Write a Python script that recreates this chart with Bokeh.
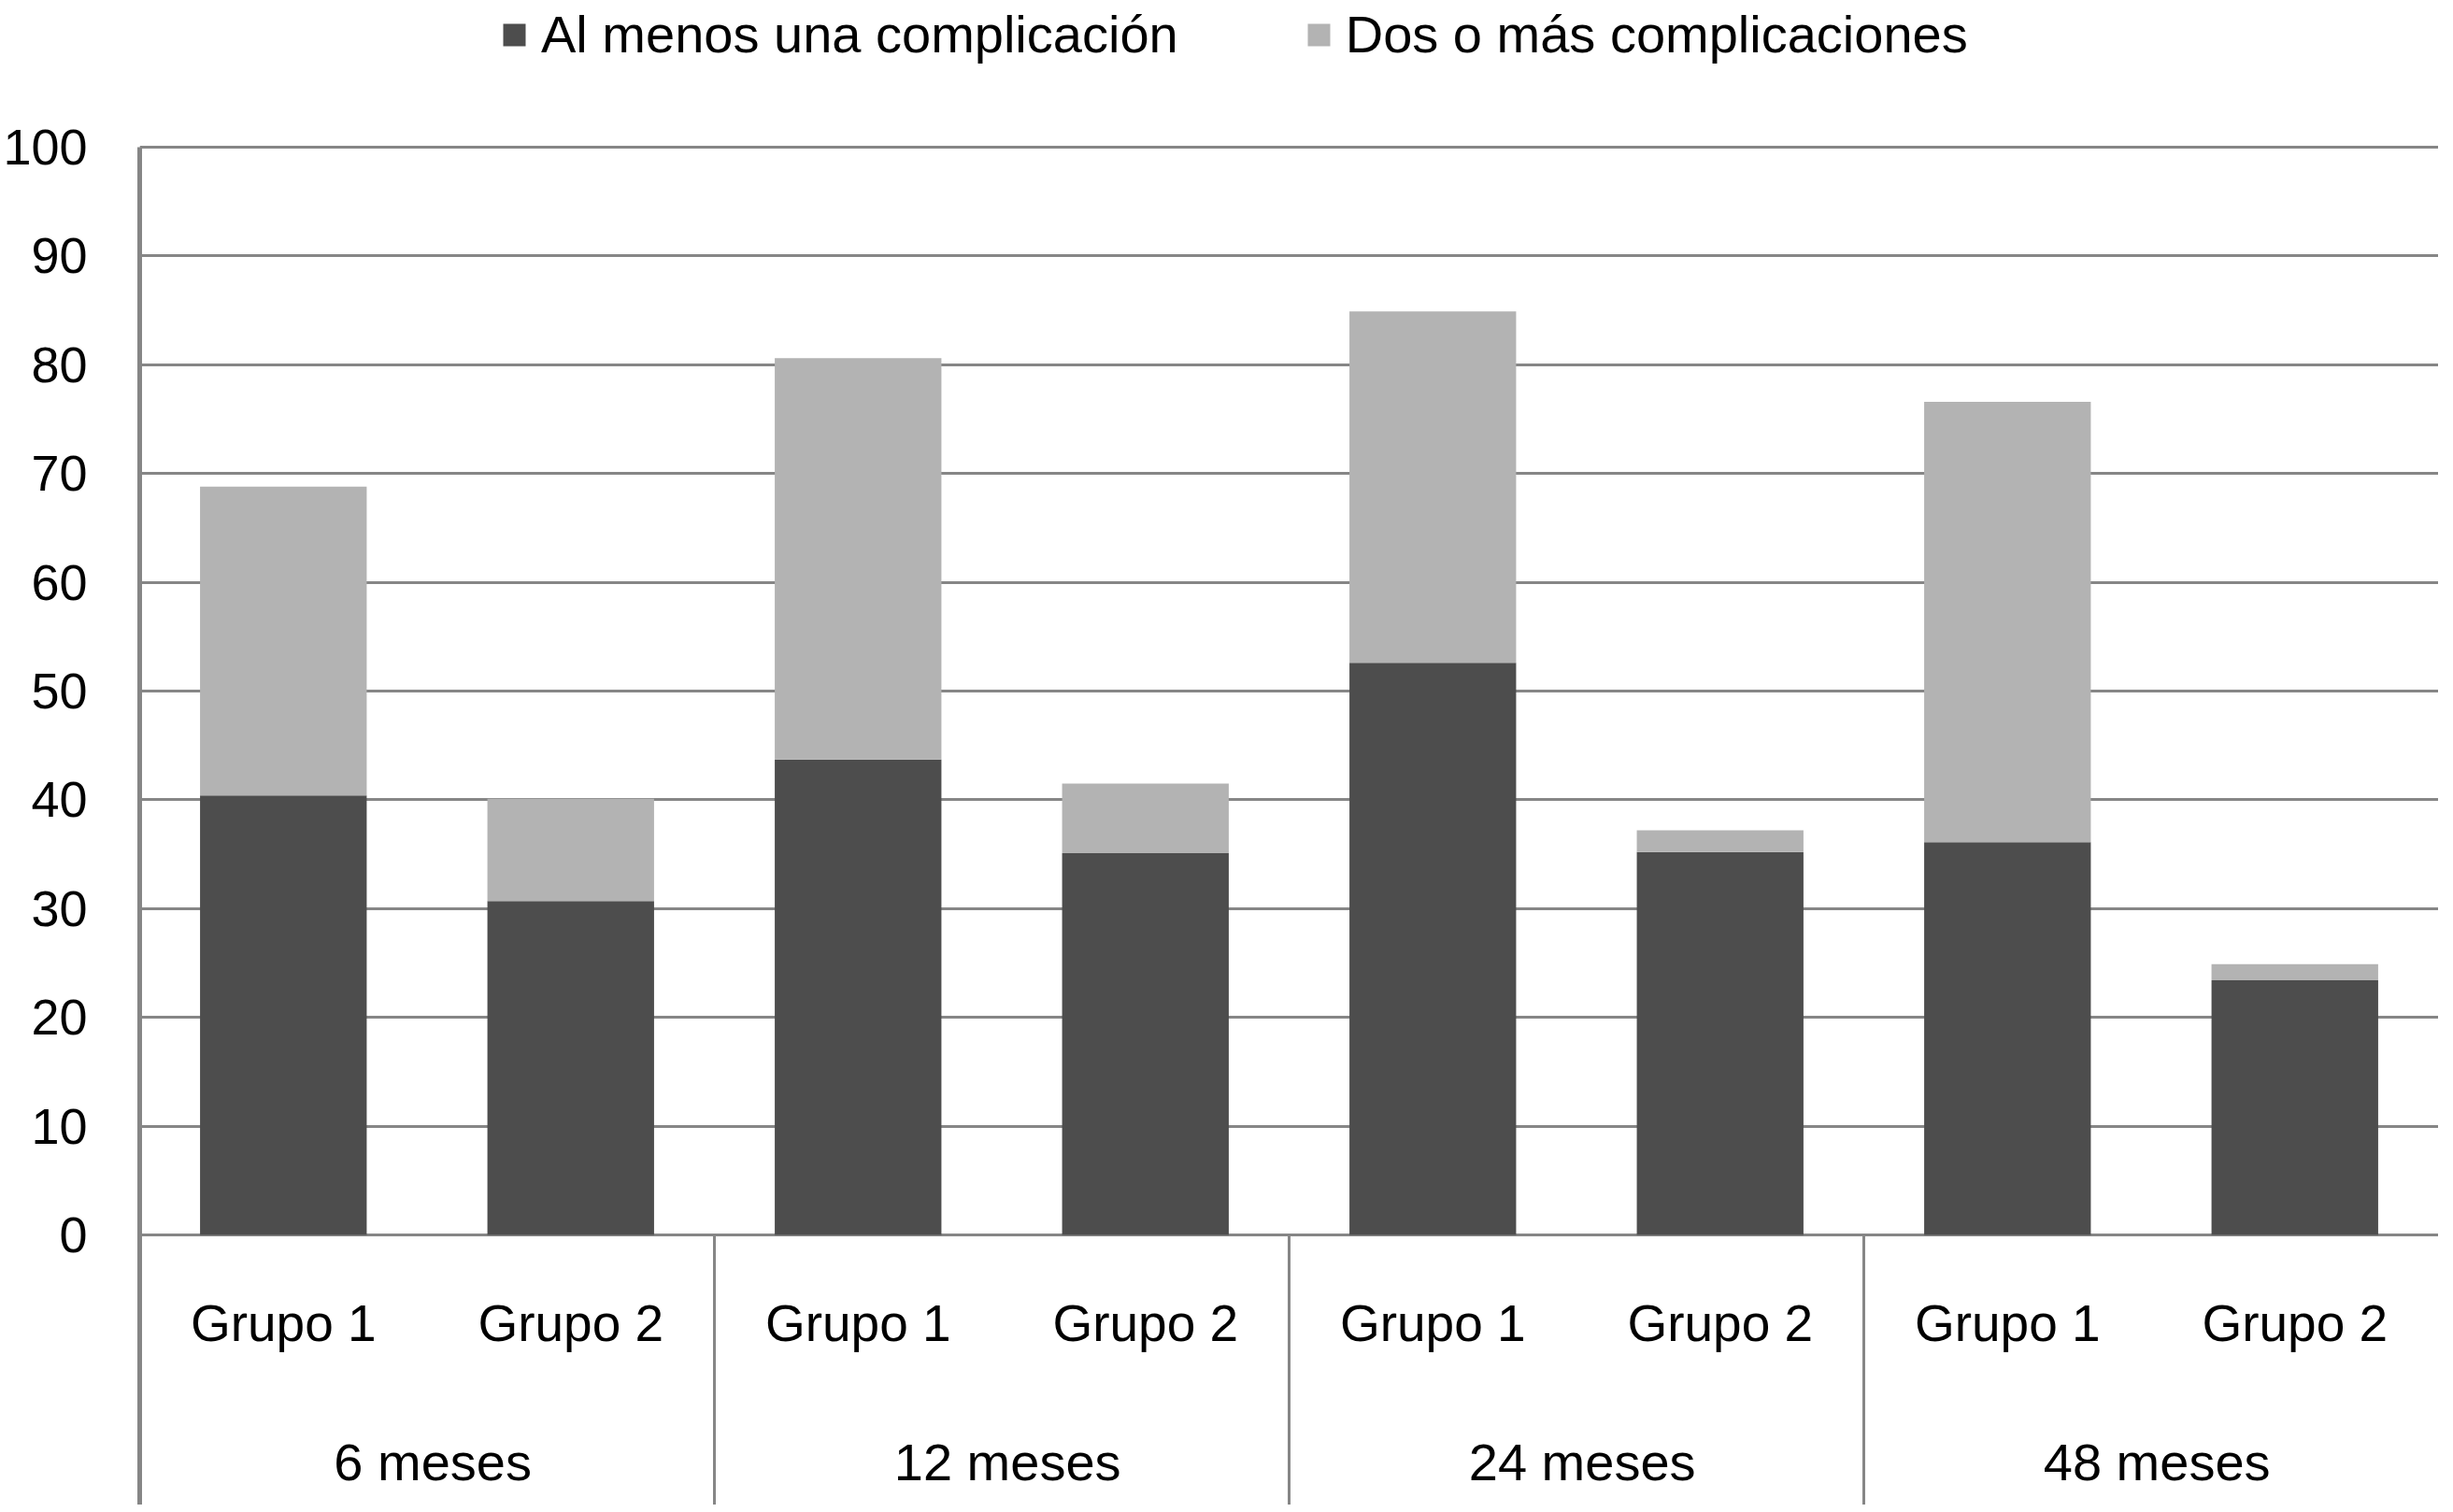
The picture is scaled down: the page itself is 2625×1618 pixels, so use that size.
from bokeh.plotting import figure
from bokeh.models import FactorRange, Range1d, FixedTicker, ColumnDataSource
from bokeh.embed import file_html
from bokeh.resources import INLINE
from bokeh.core.properties import value

# ---- data ----
periods = ["6 meses", "12 meses", "24 meses", "48 meses"]
groups = ["Grupo 1", "Grupo 2"]
series_names = ["Al menos una complicación", "Dos o más complicaciones"]
al_menos_una = [40.4, 30.7, 43.7, 35.1, 52.6, 35.2, 36.1, 23.4]
dos_o_mas_extra = [28.4, 9.4, 36.9, 6.4, 32.3, 2.0, 40.5, 1.5]
y_ticks = list(range(0, 101, 10))

# ---- styling ----
DARK = "#4d4d4d"
LIGHT = "#b3b3b3"
GRID = "#868686"
FONT = "Liberation Sans"
Y_TOP = 113.49
Y_BOTTOM = -24.83

factors = [(p, g) for p in periods for g in groups]

src = ColumnDataSource(dict(x=factors, a=al_menos_una, b=dos_o_mas_extra))

x_range = FactorRange(factors=factors, factor_padding=0, group_padding=0,
                      subgroup_padding=0, range_padding=0)

p = figure(width=2609, height=1610, x_range=x_range,
           y_range=Range1d(Y_BOTTOM, Y_TOP),
           x_axis_location=None, y_axis_location="left",
           toolbar_location=None, output_backend="svg",
           min_border_left=140, min_border_right=0,
           min_border_top=0, min_border_bottom=0)
p.outline_line_color = None
p.background_fill_color = "white"

p.vbar_stack(["a", "b"], x="x", width=0.58, source=src,
             fill_color=[DARK, LIGHT], line_color=None,
             legend_label=series_names)

# y axis
tick = FixedTicker(ticks=y_ticks)
ax = p.yaxis[0]
ax.ticker = tick
ax.bounds = (Y_BOTTOM, 100)
ax.axis_line_color = GRID
ax.axis_line_width = 5
ax.major_tick_line_color = None
ax.minor_tick_line_color = None
ax.major_label_standoff = 50
ax.major_label_text_font = FONT
ax.major_label_text_font_size = "54px"
ax.major_label_text_color = "black"

p.ygrid.ticker = tick
p.ygrid.grid_line_color = GRID
p.ygrid.grid_line_width = 3
p.xgrid.visible = False

# category labels
sub_src = ColumnDataSource(dict(x=factors, y=[-8.1] * len(factors),
                                t=[f[1] for f in factors]))
p.text(x="x", y="y", text="t", source=sub_src, text_align="center",
       text_baseline="alphabetic", text_font=value(FONT),
       text_font_size="55px", text_color="black")

grp_src = ColumnDataSource(dict(x=[(pp, groups[0], 0.52) for pp in periods],
                                y=[-20.9] * len(periods), t=periods))
p.text(x="x", y="y", text="t", source=grp_src, text_align="center",
       text_baseline="alphabetic", text_font=value(FONT),
       text_font_size="56px", text_color="black")

sep_src = ColumnDataSource(dict(x=[(pp, groups[0], -0.5) for pp in periods[1:]],
                                y0=[0] * 3, y1=[Y_BOTTOM] * 3))
p.segment(x0="x", y0="y0", x1="x", y1="y1", source=sep_src,
          line_color=GRID, line_width=3)

# legend
lg = p.legend[0]
lg.orientation = "horizontal"
lg.location = (386, 1541)
lg.glyph_width = 30
lg.glyph_height = 30
lg.label_standoff = 14
lg.spacing = 135
lg.padding = 0
lg.margin = 0
lg.border_line_color = None
lg.background_fill_alpha = 0
lg.label_text_font = FONT
lg.label_text_font_size = "56px"
lg.label_text_color = "black"

open("out.html", "w").write(file_html(p, INLINE))
